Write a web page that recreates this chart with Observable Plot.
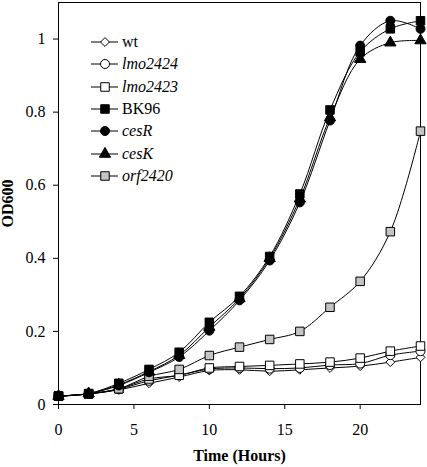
<!DOCTYPE html>
<html><head><meta charset="utf-8">
<script src="https://cdn.jsdelivr.net/npm/d3@7"></script>
<script src="https://cdn.jsdelivr.net/npm/@observablehq/plot@0.6"></script>
<style>
body{margin:0;background:#fff;}
#wrap{position:relative;width:427px;height:467px;font-family:"Liberation Serif","Tinos","Times New Roman","DejaVu Serif",serif;color:#000;}
#wrap svg, #wrap svg text{font-family:"Liberation Serif","Tinos","Times New Roman","DejaVu Serif",serif !important;}
#wrap svg g[aria-label="x-axis label"] text, #wrap svg g[aria-label="y-axis label"] text{font-weight:bold;}
#legend{position:absolute;left:91px;top:31px;font-size:16px;line-height:1;}
.row{display:flex;align-items:center;height:22.3px;}
.row span{margin-left:3px;}
.it{font-style:italic;}
</style></head><body><div id="wrap"></div>
<script>
// ---- data ----
const hours = [0, 2, 4, 6, 8, 10, 12, 14, 16, 18, 20, 22, 24];
const seriesNames = ["wt", "lmo2424", "lmo2423", "BK96", "cesR", "cesK", "orf2420"];
const italicNames = ["lmo2424", "lmo2423", "cesR", "cesK", "orf2420"];
const wt      = [0.023, 0.029, 0.040, 0.058, 0.075, 0.093, 0.095, 0.091, 0.095, 0.100, 0.105, 0.116, 0.129];
const lmo2424 = [0.023, 0.029, 0.042, 0.065, 0.080, 0.097, 0.100, 0.098, 0.100, 0.108, 0.112, 0.135, 0.146];
const lmo2423 = [0.023, 0.029, 0.043, 0.070, 0.080, 0.100, 0.104, 0.107, 0.111, 0.116, 0.127, 0.146, 0.160];
const BK96    = [0.023, 0.030, 0.058, 0.096, 0.143, 0.225, 0.296, 0.405, 0.576, 0.806, 0.965, 1.028, 1.050];
const cesR    = [0.023, 0.030, 0.052, 0.088, 0.130, 0.202, 0.285, 0.394, 0.553, 0.777, 0.982, 1.050, 1.028];
const cesK    = [0.023, 0.030, 0.054, 0.090, 0.135, 0.212, 0.290, 0.400, 0.563, 0.785, 0.945, 0.990, 0.996];
const orf2420 = [0.023, 0.029, 0.043, 0.077, 0.096, 0.134, 0.157, 0.178, 0.200, 0.266, 0.337, 0.473, 0.748];
const xTicks = [0, 5, 10, 15, 20];
const yTicks = [0, 0.2, 0.4, 0.6, 0.8, 1];

// ---- styles ----
const values = {wt, lmo2424, lmo2423, BK96, cesR, cesK, orf2420};
const style = {
  wt:      {symbol: "diamond2", fill: "white",   r: 4.0},
  lmo2424: {symbol: "circle",   fill: "white",   r: 4.5},
  lmo2423: {symbol: "square",   fill: "white",   r: 4.8},
  BK96:    {symbol: "square",   fill: "black",   r: 4.8},
  cesR:    {symbol: "circle",   fill: "black",   r: 4.5},
  cesK:    {symbol: "triangle", fill: "black",   r: 4.2},
  orf2420: {symbol: "square",   fill: "#c4c4c4", r: 4.8}
};
const rows = seriesNames.flatMap(s => hours.map((t, i) => ({series: s, t, v: values[s][i]})));
const drawOrder = ["wt", "lmo2424", "lmo2423", "orf2420", "cesK", "cesR", "BK96"];
const FONT = '"Liberation Serif","Tinos","Times New Roman","DejaVu Serif",serif';

const chart = Plot.plot({
  width: 427, height: 467,
  marginLeft: 58, marginRight: 7, marginTop: 2, marginBottom: 63,
  style: {fontFamily: FONT, fontSize: "16px", color: "black", background: "white"},
  x: {domain: [0, 24]},
  y: {domain: [0, 1.1]},
  marks: [
    Plot.frame({stroke: "black"}),
    Plot.axisX({ticks: xTicks, tickSize: 5, tickPadding: 14, tickFormat: d => String(d), label: "Time (Hours)", labelArrow: "none", labelAnchor: "center", labelOffset: 56}),
    Plot.axisY({ticks: yTicks, tickSize: 5, tickPadding: 8, tickFormat: d => String(d), label: "OD600", labelArrow: "none", labelAnchor: "center", labelOffset: 57}),
    Plot.line(rows, {x: "t", y: "v", z: "series", curve: "catmull-rom", stroke: "black", strokeWidth: 1}),
    ...drawOrder.map(s => Plot.dot(rows.filter(d => d.series === s), {
      x: "t", y: "v", symbol: () => style[s].symbol, r: style[s].r, fill: style[s].fill, stroke: "black", strokeWidth: 1
    }))
  ]
});
const wrap = document.getElementById("wrap");
wrap.appendChild(chart);

// ---- legend ----
const symMap = {circle: d3.symbolCircle, square: d3.symbolSquare, triangle: d3.symbolTriangle, diamond2: d3.symbolDiamond2};
const legend = document.createElement("div");
legend.id = "legend";
for (const s of seriesNames) {
  const st = style[s];
  const row = document.createElement("div");
  row.className = "row";
  const path = d3.symbol(symMap[st.symbol], Math.PI * st.r * st.r)();
  row.innerHTML = `<svg width="28" height="14" style="overflow:visible"><line x1="0" x2="27" y1="7" y2="7" stroke="black" stroke-width="1"/><path d="${path}" transform="translate(14,7)" fill="${st.fill}" stroke="black" stroke-width="1"/></svg><span class="${italicNames.includes(s) ? "it" : ""}">${s}</span>`;
  legend.appendChild(row);
}
wrap.appendChild(legend);
</script></body></html>
